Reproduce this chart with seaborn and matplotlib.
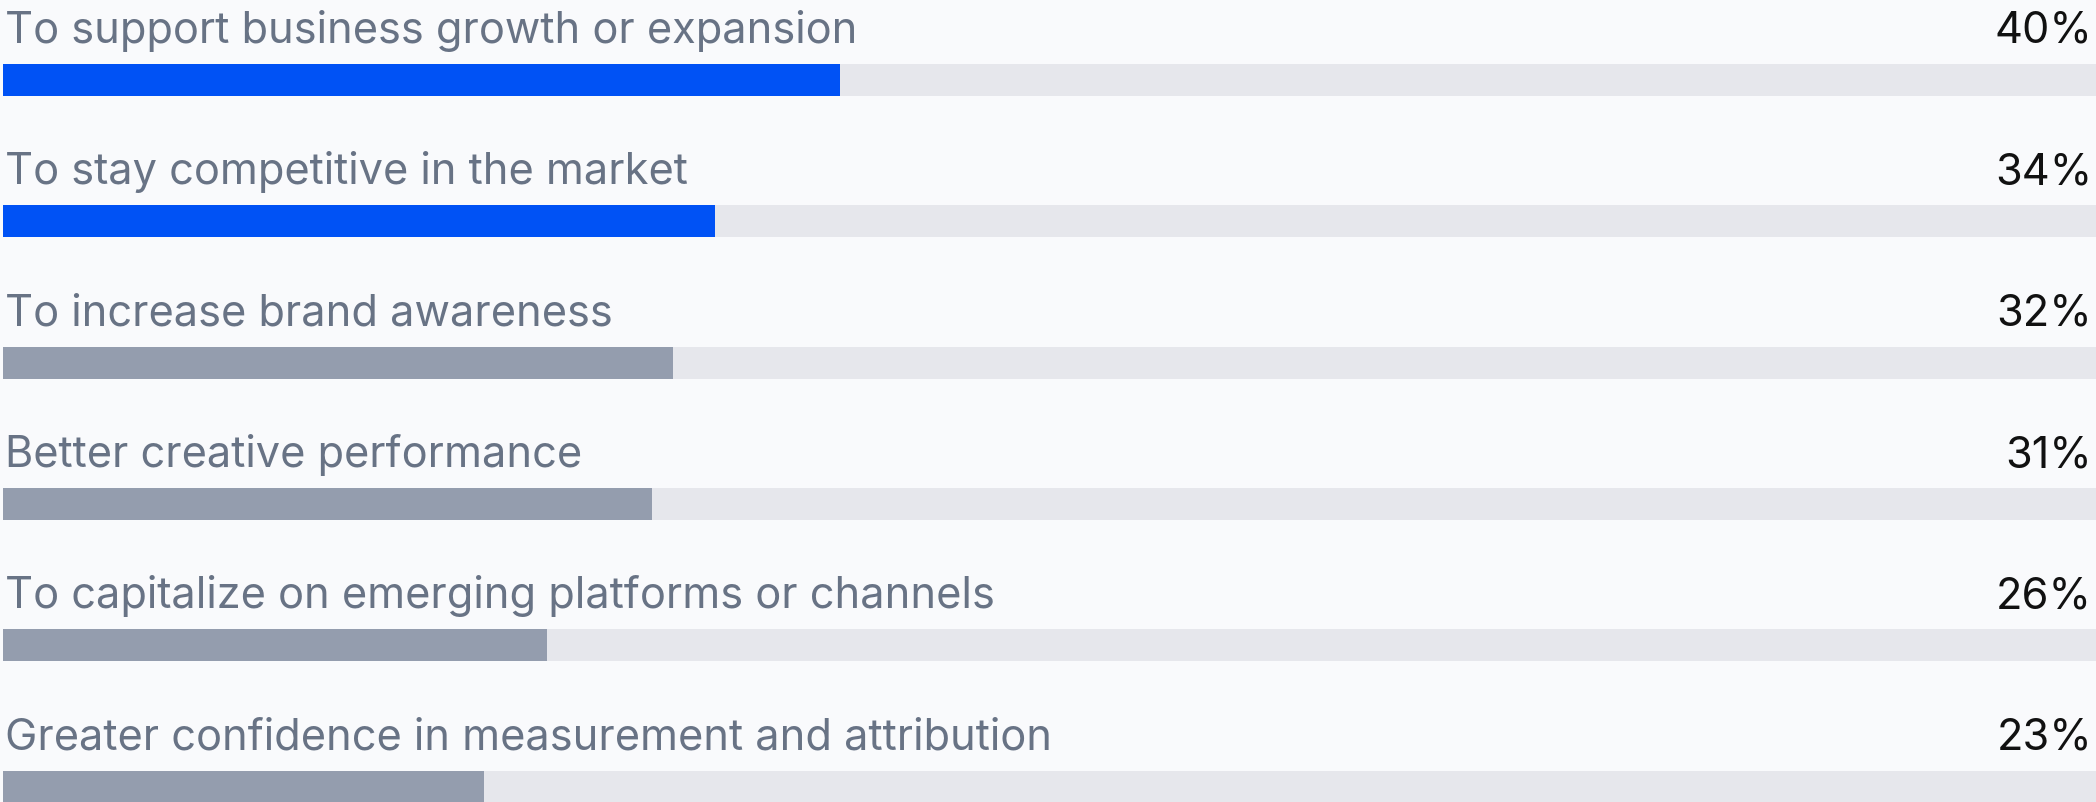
import matplotlib
matplotlib.use("Agg")
import matplotlib.pyplot as plt
import seaborn as sns
import pandas as pd

# Survey responses: reasons for increasing investment
categories = [
    "To support business growth or expansion",
    "To stay competitive in the market",
    "To increase brand awareness",
    "Better creative performance",
    "To capitalize on emerging platforms or channels",
    "Greater confidence in measurement and attribution",
]
values = [40, 34, 32, 31, 26, 23]
highlighted = [True, True, False, False, False, False]

BLUE = "#0052F5"
GRAY = "#949DAE"
TRACK = "#E6E7EC"
BG = "#F9FAFC"
LABEL = "#687385"
VALUE = "#111111"
FULL = 100

df = pd.DataFrame({"category": categories, "value": values, "track": [FULL] * len(values)})
bar_colors = {c: (BLUE if h else GRAY) for c, h in zip(categories, highlighted)}

sns.set_theme(style="white")
plt.rcParams["font.family"] = ["Inter", "DejaVu Sans"]

fig = plt.figure(figsize=(20.96, 8.02), dpi=100, facecolor=BG)
ax = fig.add_axes([0, 0, 1, 1])
ax.set_facecolor(BG)

bar_h = 0.226
sns.barplot(data=df, y="category", x="track", color=TRACK, width=bar_h,
            orient="h", ax=ax, saturation=1, edgecolor="none")
sns.barplot(data=df, y="category", x="value", hue="category", palette=bar_colors,
            width=bar_h, orient="h", ax=ax, saturation=1, edgecolor="none",
            legend=False)

x0 = 3 / 2093 * FULL
ax.set_xlim(-x0, FULL)
ax.set_ylim(5.108, -0.566)

for i, (cat, val) in enumerate(zip(categories, values)):
    ax.text(-x0 + 5 / 2096 * (FULL + x0), i - 0.262, cat, ha="left", va="baseline",
            fontsize=31.2, color=LABEL)
    ax.text(FULL - 4 / 2096 * (FULL + x0), i - 0.262, f"{val}%", ha="right",
            va="baseline", fontsize=31.2, color=VALUE)

ax.set_axis_off()
fig.savefig("out.png", dpi=100, facecolor=BG)
